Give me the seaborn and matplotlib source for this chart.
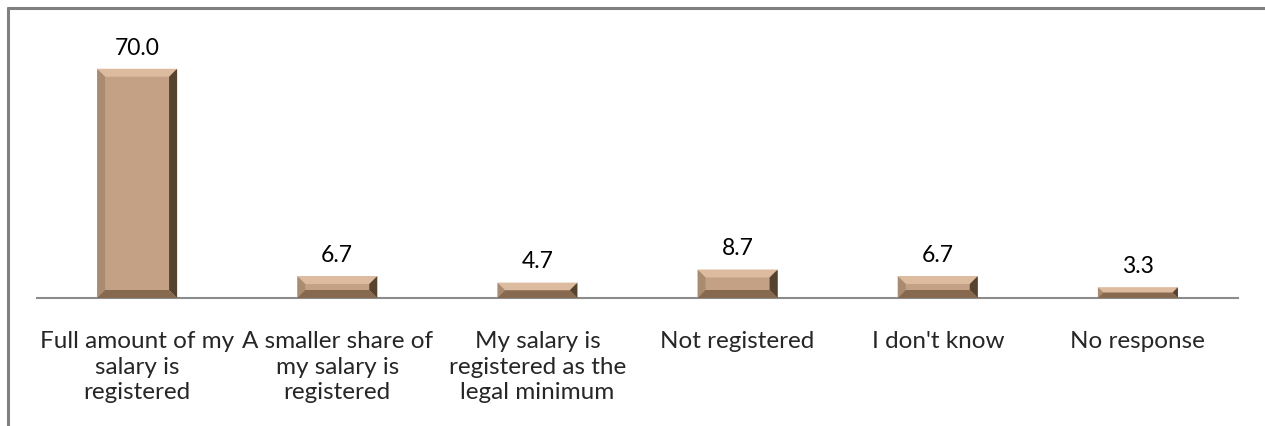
import matplotlib
matplotlib.use("Agg")
import matplotlib.pyplot as plt
from matplotlib.patches import Polygon
from matplotlib.lines import Line2D
import seaborn as sns
import pandas as pd

categories = [
    "Full amount of my\nsalary is\nregistered",
    "A smaller share of\nmy salary is\nregistered",
    "My salary is\nregistered as the\nlegal minimum",
    "Not registered",
    "I don't know",
    "No response",
]
values = [70.0, 6.7, 4.7, 8.7, 6.7, 3.3]

df = pd.DataFrame({"category": categories, "value": values})

sns.set_theme(style="white")
plt.rcParams["font.family"] = ["Lato", "DejaVu Sans"]

fig = plt.figure(figsize=(12.65, 4.27), dpi=100)
W, H = 1265, 427
ax = fig.add_axes([37 / W, (H - 299) / H, (1238 - 37) / W, (299 - 37) / H])

face = "#C4A084"
sns.barplot(data=df, x="category", y="value", color=face, width=0.4,
            saturation=1, ax=ax)
ax.set_ylim(0, 80)
ax.set_xlim(-0.5, len(categories) - 0.5)

# bevel effect on each bar, built from the bar patches
fig.canvas.draw()
d = 8
for p in ax.patches:
    x0, y0 = ax.transData.transform((p.get_x(), 0))
    x1, y1 = ax.transData.transform((p.get_x() + p.get_width(), p.get_height()))
    b = min(d, (y1 - y0) / 2)
    ix0, ix1, iy0, iy1 = x0 + b, x1 - b, y0 + b, y1 - b
    polys = [
        ([(x0, y1), (x1, y1), (ix1, iy1), (ix0, iy1)], "#DDBB9E"),  # top
        ([(x0, y0), (x0, y1), (ix0, iy1), (ix0, iy0)], "#A98B72"),  # left
        ([(x1, y0), (x1, y1), (ix1, iy1), (ix1, iy0)], "#55422F"),  # right
        ([(x0, y0), (x1, y0), (ix1, iy0), (ix0, iy0)], "#86694F"),  # bottom
    ]
    for pts, c in polys:
        ax.add_patch(Polygon(pts, closed=True, facecolor=c, edgecolor="none",
                             transform=None, zorder=3))

for i, v in enumerate(values):
    ax.annotate(f"{v:.1f}", (i, v), xytext=(0, 8), textcoords="offset points",
                ha="center", va="bottom", fontsize=16.5, color="#000000")

sns.despine(ax=ax, left=True, top=True, right=True)
ax.spines["bottom"].set_color("#8C8C8C")
ax.spines["bottom"].set_linewidth(1.5)
ax.set_yticks([])
ax.set_xlabel("")
ax.set_ylabel("")
ax.tick_params(axis="x", length=0, pad=23, labelsize=17.5)
for t in ax.get_xticklabels():
    t.set_linespacing(1.28)
    t.set_verticalalignment("top")

# chart frame (cropped on right and bottom)
fig.add_artist(Line2D([8 / W, 1], [1 - 8.5 / H, 1 - 8.5 / H], color="#808080",
                      lw=2.2, transform=fig.transFigure))
fig.add_artist(Line2D([8 / W, 8 / W], [0, 1 - 8.5 / H], color="#808080",
                      lw=2.2, transform=fig.transFigure))

fig.savefig("out.png", dpi=100)
